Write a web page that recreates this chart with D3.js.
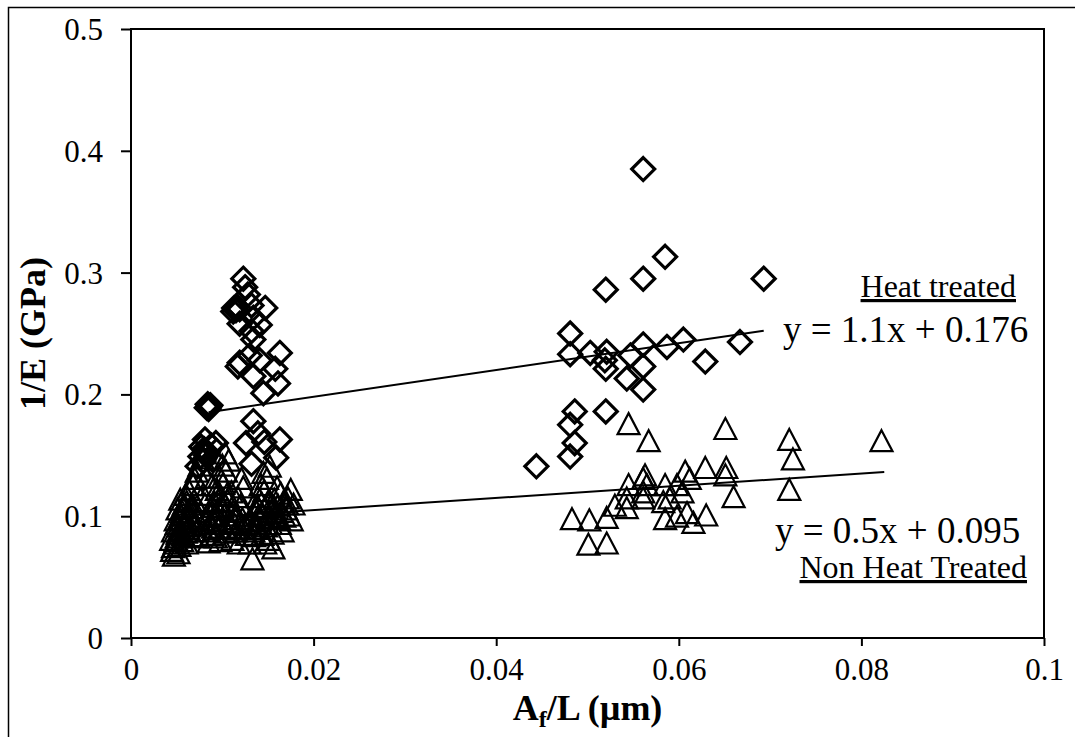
<!DOCTYPE html>
<html>
<head>
<meta charset="utf-8">
<script src="https://cdn.jsdelivr.net/npm/d3@7"></script>
<style>
  body { margin: 0; background: #fff; }
  svg { display: block; font-family: "Liberation Serif", "Times New Roman", serif; }
</style>
</head>
<body>
<div id="scatter"></div>
<script>
// A_f/L (um) vs 1/E (GPa)
var heatTreated = [
  [0.0123,0.295],[0.0125,0.288],[0.0128,0.282],[0.0113,0.271],[0.0115,0.269],[0.0116,0.272],
  [0.0112,0.268],[0.0119,0.270],[0.0132,0.273],[0.0147,0.271],[0.0134,0.263],[0.0141,0.257],
  [0.0119,0.258],[0.0132,0.252],[0.0134,0.245],[0.0119,0.226],[0.0130,0.232],[0.0141,0.228],
  [0.0163,0.234],[0.0158,0.221],[0.0134,0.215],[0.0161,0.209],[0.0145,0.201],[0.0117,0.223],
  [0.0084,0.192],[0.0086,0.190],[0.0085,0.188],[0.0087,0.191],[0.0083,0.189],
  [0.0134,0.178],[0.0139,0.168],[0.0126,0.160],[0.0146,0.161],[0.0163,0.163],[0.0159,0.148],
  [0.0132,0.143],[0.0081,0.163],[0.0077,0.157],[0.0084,0.152],[0.0079,0.145],[0.0093,0.160],
  [0.0073,0.141],[0.0080,0.155],[0.0082,0.150],[0.0076,0.149],[0.0088,0.158],[0.0090,0.146],
  [0.0561,0.385],[0.0585,0.313],[0.0561,0.295],[0.0520,0.286],[0.0693,0.295],[0.0481,0.250],
  [0.0481,0.233],[0.0503,0.234],[0.0521,0.235],[0.0519,0.228],[0.0520,0.221],[0.0547,0.232],
  [0.0561,0.241],[0.0561,0.223],[0.0543,0.213],[0.0561,0.204],[0.0587,0.239],[0.0605,0.245],
  [0.0629,0.227],[0.0667,0.243],[0.0486,0.186],[0.0520,0.186],[0.0481,0.175],[0.0486,0.160],
  [0.0481,0.149],[0.0444,0.141]
];

var nonHeatTreated = [
  [0.0045,0.072],[0.0048,0.078],[0.0050,0.083],[0.0046,0.088],[0.0052,0.092],[0.0049,0.097],
  [0.0055,0.101],[0.0051,0.106],[0.0058,0.110],[0.0054,0.114],[0.0060,0.118],[0.0057,0.085],
  [0.0062,0.090],[0.0059,0.095],[0.0064,0.100],[0.0066,0.107],[0.0063,0.122],[0.0068,0.126],
  [0.0070,0.131],[0.0072,0.137],[0.0075,0.142],[0.0078,0.148],[0.0053,0.076],[0.0056,0.080],
  [0.0061,0.078],[0.0047,0.068],[0.0044,0.081],[0.0067,0.084],[0.0070,0.093],[0.0073,0.098],
  [0.0076,0.104],[0.0069,0.113],[0.0079,0.118],
  [0.0046,0.075],[0.0049,0.080],[0.0051,0.086],[0.0053,0.089],[0.0050,0.094],[0.0054,0.098],
  [0.0056,0.104],[0.0058,0.093],[0.0060,0.087],[0.0062,0.096],[0.0064,0.092],[0.0065,0.103],
  [0.0067,0.110],[0.0057,0.107],[0.0061,0.112],[0.0071,0.088],[0.0074,0.083],[0.0052,0.070],
  [0.0085,0.079],[0.0088,0.085],[0.0090,0.091],[0.0093,0.097],[0.0087,0.102],[0.0095,0.106],
  [0.0091,0.112],[0.0098,0.117],[0.0094,0.122],[0.0101,0.127],[0.0097,0.132],[0.0104,0.137],
  [0.0100,0.142],[0.0107,0.146],[0.0103,0.152],[0.0110,0.120],[0.0106,0.113],[0.0112,0.104],
  [0.0108,0.095],[0.0115,0.088],[0.0111,0.081],[0.0118,0.078],[0.0114,0.098],[0.0120,0.109],
  [0.0117,0.116],[0.0123,0.124],[0.0121,0.131],[0.0125,0.093],[0.0127,0.085],[0.0089,0.126],
  [0.0083,0.132],[0.0081,0.110],
  [0.0084,0.088],[0.0086,0.094],[0.0092,0.100],[0.0096,0.090],[0.0099,0.096],[0.0102,0.101],
  [0.0100,0.108],[0.0105,0.087],[0.0109,0.091],[0.0113,0.094],[0.0116,0.101],[0.0119,0.090],
  [0.0122,0.098],[0.0105,0.118],[0.0096,0.113],[0.0089,0.108],[0.0093,0.083],[0.0098,0.080],
  [0.0133,0.065],[0.0130,0.078],[0.0135,0.084],[0.0138,0.090],[0.0132,0.096],[0.0140,0.101],
  [0.0136,0.106],[0.0143,0.111],[0.0139,0.116],[0.0146,0.121],[0.0142,0.126],[0.0149,0.131],
  [0.0145,0.136],[0.0152,0.141],[0.0148,0.092],[0.0155,0.086],[0.0151,0.081],[0.0158,0.099],
  [0.0154,0.104],[0.0161,0.109],[0.0157,0.114],[0.0164,0.119],[0.0160,0.124],[0.0167,0.112],
  [0.0170,0.106],[0.0173,0.101],[0.0176,0.097],[0.0163,0.094],[0.0166,0.088],[0.0172,0.115],
  [0.0178,0.110],[0.0175,0.122],[0.0147,0.078],[0.0156,0.074],
  [0.0134,0.088],[0.0137,0.094],[0.0141,0.097],[0.0144,0.102],[0.0147,0.107],[0.0150,0.099],
  [0.0153,0.094],[0.0156,0.108],[0.0159,0.103],[0.0162,0.098],[0.0165,0.104],[0.0168,0.100],
  [0.0144,0.085],[0.0150,0.112],[0.0139,0.108],[0.0171,0.110],
  [0.0545,0.176],[0.0567,0.162],[0.0651,0.172],[0.0721,0.163],[0.0725,0.147],[0.0822,0.162],
  [0.0721,0.122],[0.0660,0.116],[0.0652,0.140],[0.0651,0.134],[0.0629,0.140],[0.0630,0.101],
  [0.0616,0.095],[0.0607,0.137],[0.0612,0.131],[0.0598,0.126],[0.0585,0.126],[0.0585,0.098],
  [0.0598,0.100],[0.0609,0.103],[0.0563,0.134],[0.0561,0.131],[0.0565,0.126],[0.0561,0.120],
  [0.0561,0.115],[0.0545,0.126],[0.0543,0.115],[0.0530,0.109],[0.0521,0.099],[0.0543,0.107],
  [0.0502,0.097],[0.0483,0.098],[0.0501,0.077],[0.0521,0.078],[0.0583,0.112],[0.0590,0.115],
  [0.0604,0.120]
];

// linear trend lines: y = slope * x + intercept, drawn over [from, to]
var heatTrend = { slope: 1.1, intercept: 0.176, from: 0.0085, to: 0.0693 };
var nonHeatTrend = { slope: 0.5, intercept: 0.095, from: 0.0095, to: 0.0825 };

var xTicks = [0, 0.02, 0.04, 0.06, 0.08, 0.1];
var yTicks = [0, 0.1, 0.2, 0.3, 0.4, 0.5];

var outerWidth = 1075,
    outerHeight = 737,
    margin = { top: 29, right: 31, bottom: 99, left: 131 },
    width = outerWidth - margin.left - margin.right,
    height = outerHeight - margin.top - margin.bottom;

var x = d3.scaleLinear().domain([0, 0.1]).range([0, width]);
var y = d3.scaleLinear().domain([0, 0.5]).range([height, 0]);

var svg = d3.select("#scatter")
    .append("svg")
    .attr("width", outerWidth)
    .attr("height", outerHeight);

// outer chart frame (runs off the right and bottom of the picture)
svg.append("rect")
    .attr("x", 8.5).attr("y", 7.5)
    .attr("width", 1200).attr("height", 900)
    .attr("fill", "none")
    .attr("stroke", "#000")
    .attr("stroke-width", 1.5);

var g = svg.append("g")
    .attr("transform", "translate(" + margin.left + "," + margin.top + ")");

// axes
var fmt = function (d) { return d === 0 ? "0" : String(+d.toFixed(2)); };

var xAxis = g.append("g")
    .attr("transform", "translate(0," + height + ")")
    .call(d3.axisBottom(x).tickValues(xTicks).tickFormat(fmt).tickSize(8).tickPadding(12));

var yAxis = g.append("g")
    .call(d3.axisLeft(y).tickValues(yTicks).tickFormat(fmt).tickSize(10).tickPadding(18));

[xAxis, yAxis].forEach(function (ax) {
    ax.select(".domain").remove();
    ax.selectAll(".tick line").attr("stroke", "#000").attr("stroke-width", 2);
    ax.selectAll(".tick text")
        .attr("fill", "#000")
        .style("font-family", "'Liberation Serif', 'Times New Roman', serif")
        .style("font-size", "31px");
});
yAxis.selectAll(".tick text").attr("dy", "0.34em");

// plot box
g.append("rect")
    .attr("width", width)
    .attr("height", height)
    .attr("fill", "none")
    .attr("stroke", "#000")
    .attr("stroke-width", 2);

// trend lines
function trendLine(t) {
    return [[t.from, t.slope * t.from + t.intercept], [t.to, t.slope * t.to + t.intercept]];
}
var line = d3.line()
    .x(function (d) { return x(d[0]); })
    .y(function (d) { return y(d[1]); });

[heatTrend, nonHeatTrend].forEach(function (t) {
    g.append("path")
        .attr("d", line(trendLine(t)))
        .attr("fill", "none")
        .attr("stroke", "#000")
        .attr("stroke-width", 2);
});

// markers
var r = 11.5;
var diamond = "M0," + (-r) + "L" + r + ",0L0," + r + "L" + (-r) + ",0Z";
var tri = "M0,-10.5L11,10.5L-11,10.5Z";

g.selectAll(".nht")
    .data(nonHeatTreated)
    .enter().append("path")
    .attr("class", "nht")
    .attr("d", tri)
    .attr("transform", function (d) { return "translate(" + x(d[0]) + "," + y(d[1]) + ")"; })
    .attr("fill", "none")
    .attr("stroke", "#000")
    .attr("stroke-width", 2.2);

g.selectAll(".ht")
    .data(heatTreated)
    .enter().append("path")
    .attr("class", "ht")
    .attr("d", diamond)
    .attr("transform", function (d) { return "translate(" + x(d[0]) + "," + y(d[1]) + ")"; })
    .attr("fill", "none")
    .attr("stroke", "#000")
    .attr("stroke-width", 3.2);

// labels
svg.append("text")
    .attr("x", 1016).attr("y", 297)
    .attr("text-anchor", "end")
    .style("font-size", "32px")
    .style("text-decoration", "underline")
    .text("Heat treated");

svg.append("text")
    .attr("x", 783).attr("y", 342)
    .style("font-size", "37px")
    .text("y = 1.1x + 0.176");

svg.append("text")
    .attr("x", 775).attr("y", 543)
    .style("font-size", "37px")
    .text("y = 0.5x + 0.095");

svg.append("text")
    .attr("x", 1027).attr("y", 578)
    .attr("text-anchor", "end")
    .style("font-size", "32px")
    .style("text-decoration", "underline")
    .text("Non Heat Treated");

// axis titles
var xt = svg.append("text")
    .attr("x", margin.left + width / 2).attr("y", 720)
    .attr("text-anchor", "middle")
    .style("font-size", "36px")
    .style("font-weight", "bold");
xt.append("tspan").text("A");
xt.append("tspan").attr("dy", 7).style("font-size", "24px").text("f");
xt.append("tspan").attr("dy", -7).text("/L (\u00b5m)");

svg.append("text")
    .attr("transform", "translate(45," + (margin.top + height / 2) + ") rotate(-90)")
    .attr("text-anchor", "middle")
    .style("font-size", "36px")
    .style("font-weight", "bold")
    .text("1/E (GPa)");
</script>
</body>
</html>
